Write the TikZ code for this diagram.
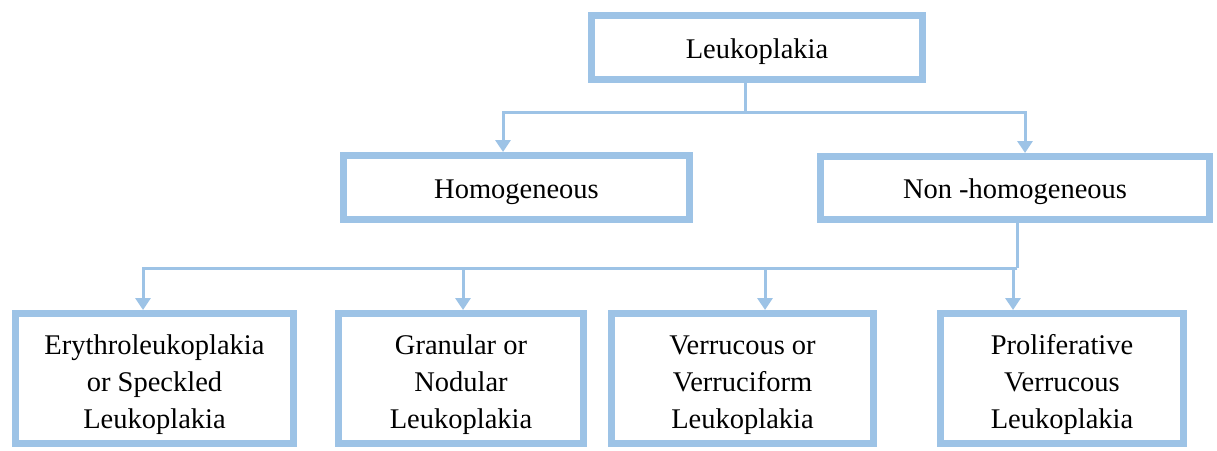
\documentclass[tikz,border=0pt]{standalone}
\usepackage{fontspec}
\setmainfont{Liberation Serif}
\usetikzlibrary{arrows.meta}
\definecolor{boxblue}{RGB}{157,195,230}
\newcommand{\lowA}{\rule{0pt}{28pt}}
\newcommand{\lowB}{\rule{0pt}{32pt}}
\tikzset{
  box/.style={draw=boxblue, line width=7pt, fill=white, align=center, inner sep=0pt,
    font=\fontsize{28.5}{36.7}\selectfont, text=black},
  conn/.style={draw=boxblue, line width=3pt},
  arr/.style={conn, -{Triangle[width=15pt,length=12pt]}}
}
\begin{document}
\begin{tikzpicture}[x=1pt,y=-1pt]
\useasboundingbox (0,0) rectangle (1217,450);
\node[box, minimum width=331pt, minimum height=64pt] (top) at (757,47.5) {\lowA Leukoplakia};
\node[box, minimum width=346pt, minimum height=64pt] (hom) at (516.5,187.5) {\lowA Homogeneous};
\node[box, minimum width=389pt, minimum height=63pt] (non) at (1015,188) {\lowA Non -homogeneous};
\node[box, minimum width=278pt, minimum height=130pt] (b1) at (154.5,378.5) {\lowB Erythroleukoplakia\\or Speckled\\Leukoplakia};
\node[box, minimum width=245pt, minimum height=130pt] (b2) at (461,378.5) {\lowB Granular or\\Nodular\\Leukoplakia};
\node[box, minimum width=262pt, minimum height=130pt] (b3) at (742.5,378.5) {\lowB Verrucous or\\Verruciform\\Leukoplakia};
\node[box, minimum width=243pt, minimum height=130pt] (b4) at (1062,378.5) {\lowB Proliferative\\Verrucous\\Leukoplakia};
\coordinate (j1) at (745,112);
\coordinate (j2) at (1017,268);
\draw[conn] (top.south -| j1) -- (j1);
\draw[arr] (j1) -| ([xshift=-13.5pt]hom.north);
\draw[arr] (j1) -| ([xshift=10pt]non.north);
\draw[conn] (non.south -| j2) -- (j2);
\draw[arr] (j2) -| ([xshift=-11.5pt]b1.north);
\draw[arr] (j2) -| ([xshift=2pt]b2.north);
\draw[arr] (j2) -| ([xshift=22.5pt]b3.north);
\draw[arr] (j2) -| ([xshift=-49pt]b4.north);
\end{tikzpicture}
\end{document}
